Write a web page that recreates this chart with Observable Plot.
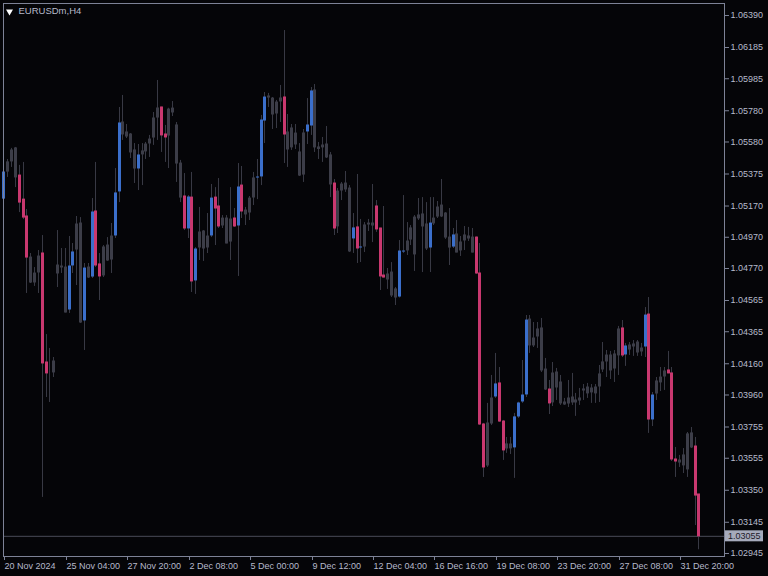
<!DOCTYPE html>
<html><head><meta charset="utf-8">
<script src="https://cdn.jsdelivr.net/npm/d3@7"></script>
<script src="https://cdn.jsdelivr.net/npm/@observablehq/plot@0.6"></script>
<style>
html,body{margin:0;padding:0;background:#050508;}
#chart{width:768px;height:576px;}
</style></head><body><div id="chart"></div>
<script>
const title = "EURUSDm,H4";
const lastPrice = 1.03055;
const dateLabels = ["20 Nov 2024","25 Nov 04:00","27 Nov 20:00","2 Dec 08:00","5 Dec 00:00","9 Dec 12:00","12 Dec 04:00","16 Dec 16:00","19 Dec 08:00","23 Dec 20:00","27 Dec 08:00","31 Dec 20:00"];
const barsPerLabel = 16;
const priceTicks = [1.06390,1.06185,1.05985,1.05780,1.05580,1.05375,1.05170,1.04970,1.04770,1.04565,1.04365,1.04160,1.03960,1.03755,1.03555,1.03350,1.03145,1.02945];
// signal per bar: u = bullish highlight, d = bearish highlight, n = none
const signal = ("unnndddnnn"+"ddnnnnnuun"+"nunuddnnnu"+"unnnnunnnn"+"nddnnnndud"+"unnnuddnnn"+"dudnnnuuun"+"nnndnnnnnu"+"unnnnndnnn"+"nudunnnddd"+
  "nnnuunnnnn"+"nunnnnnunn"+"nnndddnnud"+"dnnuuuunnn"+"nndnnnnnnn"+"nnnnnnnnnn"+"ndunnnnudu"+"nnndddnnnn"+"dd").split("");
const open = [
1.05211,1.05384,1.05449,1.05539,1.05365,1.05211,1.05103,1.04840,1.04674,1.04738,
1.04866,1.04168,1.04104,1.04098,1.04789,1.04770,1.04776,1.04501,1.04783,1.04885,
1.05058,1.04431,1.04776,1.04712,1.05135,1.04796,1.04719,1.04917,1.04821,1.04975,
1.05257,1.05705,1.05641,1.05628,1.05526,1.05404,1.05494,1.05513,1.05564,1.05602,
1.05730,1.05801,1.05628,1.05615,1.05794,1.05686,1.05442,1.05231,1.05020,1.05224,
1.04687,1.04898,1.05007,1.04898,1.04975,1.05224,1.05167,1.05039,1.05090,1.04936,
1.05090,1.05039,1.05301,1.05141,1.05122,1.05218,1.05346,1.05353,1.05711,1.05858,
1.05858,1.05756,1.05833,1.05865,1.05641,1.05539,1.05634,1.05513,1.05365,1.05641,
1.05679,1.05910,1.05545,1.05539,1.05564,1.05494,1.05314,1.05033,1.05263,1.05314,
1.05282,1.04956,1.05033,1.04898,1.04904,1.05045,1.05058,1.05167,1.05026,1.04725,
1.04693,1.04744,1.04636,1.04584,1.04872,1.04879,1.04949,1.05096,1.05084,1.05116,
1.05052,1.04898,1.05052,1.05096,1.05173,1.05122,1.04968,1.04904,1.04988,1.04879,
1.04943,1.04975,1.04968,1.04968,1.04738,1.03771,1.03502,1.03771,1.03944,1.04034,
1.03790,1.03611,1.03643,1.03618,1.03816,1.03912,1.03957,1.04443,1.04271,1.04328,
1.04386,1.04123,1.03995,1.03906,1.04104,1.04040,1.03912,1.03899,1.03944,1.03925,
1.03918,1.03982,1.04008,1.03970,1.04008,1.04008,1.04117,1.04168,1.04213,1.04123,
1.04207,1.04386,1.04213,1.04277,1.04264,1.04296,1.04232,1.04264,1.04475,1.03797,
1.03963,1.04034,1.04072,1.04117,1.04098,1.03547,1.03521,1.03573,1.03477,1.03714,
1.03630,1.03323];
const high = [
1.05449,1.05468,1.05539,1.05545,1.05430,1.05449,1.05148,1.04866,1.04776,1.04885,
1.04981,1.04347,1.04258,1.04200,1.05013,1.04898,1.04898,1.04975,1.04930,1.05103,
1.05096,1.04802,1.04802,1.05218,1.05449,1.04866,1.04917,1.04968,1.05058,1.05410,
1.05801,1.05878,1.05692,1.05634,1.05570,1.05564,1.05570,1.05577,1.05622,1.05769,
1.05974,1.05803,1.05686,1.05796,1.05839,1.05705,1.05462,1.05378,1.05237,1.05385,
1.04904,1.05161,1.05013,1.05122,1.05308,1.05288,1.05346,1.05109,1.05109,1.05288,
1.05154,1.05442,1.05423,1.05161,1.05231,1.05385,1.05468,1.05750,1.05897,1.05891,
1.05865,1.05846,1.05942,1.06294,1.05756,1.05692,1.05692,1.05570,1.05660,1.05858,
1.05929,1.05948,1.05577,1.05609,1.05679,1.05513,1.05340,1.05282,1.05321,1.05391,
1.05301,1.05122,1.05372,1.05084,1.05064,1.05084,1.05308,1.05205,1.05028,1.05167,
1.04770,1.04808,1.04648,1.04949,1.05237,1.05064,1.05045,1.05109,1.05218,1.05224,
1.05192,1.05224,1.05224,1.05199,1.05340,1.05128,1.05154,1.05026,1.05077,1.04975,
1.05039,1.05033,1.05026,1.04972,1.04930,1.03778,1.03906,1.04085,1.04226,1.04136,
1.03797,1.03688,1.03688,1.03842,1.03914,1.04181,1.04469,1.04469,1.04424,1.04424,
1.04450,1.04194,1.04053,1.04168,1.04130,1.04085,1.03938,1.04053,1.04098,1.03970,
1.04002,1.04027,1.04034,1.04027,1.04027,1.04149,1.04296,1.04245,1.04239,1.04245,
1.04399,1.04437,1.04290,1.04296,1.04309,1.04309,1.04290,1.04520,1.04584,1.03976,
1.04072,1.04136,1.04136,1.04239,1.04136,1.03624,1.03573,1.03617,1.03720,1.03752,
1.03688,1.03323];
const low = [
1.05064,1.05353,1.05417,1.05288,1.05128,1.05083,1.04610,1.04674,1.04655,1.04610,
1.03304,1.03944,1.03912,1.04072,1.04648,1.04738,1.04485,1.04482,1.04738,1.04661,
1.04418,1.04245,1.04706,1.04706,1.04776,1.04565,1.04712,1.04815,1.04738,1.04962,
1.05192,1.05590,1.05602,1.05474,1.05314,1.05269,1.05301,1.05468,1.05481,1.05558,
1.05590,1.05513,1.05449,1.05410,1.05743,1.05321,1.05192,1.05013,1.04962,1.04616,
1.04604,1.04821,1.04815,1.04866,1.04968,1.04917,1.05026,1.05026,1.04928,1.04821,
1.05033,1.04719,1.05090,1.05045,1.05077,1.05173,1.05211,1.05301,1.05570,1.05801,
1.05660,1.05666,1.05705,1.05442,1.05417,1.05526,1.05532,1.05359,1.05321,1.05564,
1.05622,1.05513,1.05468,1.05449,1.05474,1.05224,1.04981,1.04994,1.05205,1.05257,
1.04872,1.04866,1.04802,1.04808,1.04872,1.05007,1.04936,1.05001,1.04629,1.04709,
1.04636,1.04584,1.04533,1.04581,1.04866,1.04853,1.04917,1.04751,1.05077,1.04744,
1.04885,1.04744,1.05045,1.05090,1.05096,1.04956,1.04789,1.04898,1.04870,1.04847,
1.04885,1.04943,1.04869,1.04732,1.03765,1.03432,1.03496,1.03765,1.03938,1.03784,
1.03541,1.03586,1.03579,1.03426,1.03810,1.03906,1.03944,1.04226,1.04264,1.04258,
1.04104,1.03989,1.03835,1.03886,1.03925,1.03893,1.03893,1.03880,1.03893,1.03823,
1.03893,1.03925,1.03938,1.03906,1.03906,1.03912,1.04104,1.04072,1.04059,1.04040,
1.04085,1.04200,1.04143,1.04213,1.04207,1.04207,1.04207,1.04200,1.03714,1.03758,
1.03925,1.03982,1.03989,1.04096,1.03534,1.03432,1.03496,1.03457,1.03432,1.03617,
1.03124,1.02969];
const close = [
1.05391,1.05456,1.05532,1.05353,1.05192,1.05096,1.04840,1.04680,1.04744,1.04853,
1.04162,1.04098,1.04110,1.04181,1.04738,1.04789,1.04488,1.04789,1.04879,1.05058,
1.04424,1.04776,1.04712,1.05135,1.04789,1.04719,1.04911,1.04821,1.04981,1.05257,
1.05705,1.05628,1.05615,1.05513,1.05410,1.05500,1.05526,1.05570,1.05602,1.05737,
1.05801,1.05622,1.05609,1.05794,1.05769,1.05442,1.05224,1.05026,1.05231,1.04687,
1.04898,1.05007,1.04898,1.04981,1.05224,1.05154,1.05039,1.05096,1.04930,1.05090,
1.05039,1.05295,1.05135,1.05116,1.05224,1.05353,1.05359,1.05724,1.05871,1.05878,
1.05756,1.05839,1.05865,1.05628,1.05532,1.05673,1.05564,1.05365,1.05641,1.05692,
1.05910,1.05545,1.05535,1.05564,1.05481,1.05308,1.05026,1.05269,1.05314,1.05276,
1.04879,1.05033,1.04898,1.04911,1.05052,1.05064,1.05045,1.05020,1.04719,1.04712,
1.04738,1.04597,1.04584,1.04885,1.04885,1.04949,1.05033,1.04860,1.05116,1.05039,
1.04898,1.05064,1.05096,1.05167,1.05103,1.04968,1.04904,1.04988,1.04872,1.04943,
1.04988,1.04962,1.04872,1.04738,1.03771,1.03496,1.03784,1.03944,1.04034,1.03790,
1.03605,1.03650,1.03618,1.03823,1.03912,1.03963,1.04443,1.04277,1.04328,1.04386,
1.04117,1.03995,1.03906,1.04104,1.04008,1.03906,1.03899,1.03944,1.03912,1.03912,
1.03944,1.04002,1.03970,1.04008,1.03970,1.04098,1.04175,1.04219,1.04117,1.04226,
1.04386,1.04213,1.04277,1.04251,1.04290,1.04232,1.04264,1.04475,1.03803,1.03963,
1.04053,1.04078,1.04117,1.04098,1.03547,1.03534,1.03547,1.03509,1.03714,1.03624,
1.03316,1.03055];

const bars = open.map((o, i) => ({i, open: o, high: high[i], low: low[i], close: close[i], signal: signal[i]}));
const labelBars = dateLabels.map((_, k) => k * barsPerLabel);

const axisColor = "#7d8296";
const textColor = "#b6bacb";

const chart = Plot.plot({
  width: 768, height: 576,
  marginTop: 3, marginBottom: 20, marginLeft: 3, marginRight: 44,
  style: {background: "#050508", color: textColor, fontFamily: "'Liberation Sans', Arial, sans-serif", fontSize: "9px"},
  x: {domain: [-0.08, 187.68], round: true, axis: null, label: null},
  y: {domain: [1.029258, 1.064668], axis: null, label: null},
  color: {domain: ["u", "d", "n"], range: ["#3b6fcb", "#c9386f", "#3c3d48"]},
  marks: [
    Plot.ruleY([lastPrice], {stroke: "#4a4b58"}),
    Plot.ruleX(bars, {x: "i", y1: "low", y2: "high", stroke: "#383944", strokeWidth: 1}),
    Plot.ruleX(bars, {x: "i", y1: "open", y2: "close", stroke: "signal", strokeWidth: 3, insetTop: -0.5, insetBottom: -0.5}),
    Plot.frame({stroke: axisColor}),
    Plot.axisY(priceTicks, {anchor: "right", label: null, tickSize: 4, tickPadding: 2, tickFormat: d => d.toFixed(5), stroke: axisColor, fill: textColor}),
    Plot.axisX(labelBars, {anchor: "bottom", label: null, tickSize: 4, tickPadding: 2, tickFormat: (d, k) => dateLabels[k], textAnchor: "start", dx: 1, stroke: axisColor, fill: textColor}),
    Plot.dot([title], {frameAnchor: "top-left", dx: 6, dy: 8, symbol: "triangle", rotate: 180, r: 2.6, fill: "#ffffff", stroke: "none"}),
    Plot.text([title], {frameAnchor: "top-left", dx: 15, dy: 4, text: d => d, fill: textColor, fontSize: 9.5})
  ]
});
document.getElementById("chart").appendChild(chart);

// current price label on the right axis
const yPos = chart.scale("y").apply(lastPrice);
const svg = d3.select(chart);
const g = svg.append("g").attr("text-anchor", "start");
g.append("rect").attr("x", 725).attr("y", yPos - 5.5).attr("width", 38).attr("height", 11).attr("fill", "#a6abbc");
g.append("text").attr("x", 728).attr("y", yPos).attr("dy", "0.35em").attr("text-anchor", "start")
  .attr("font-family", "'Liberation Sans', Arial, sans-serif").attr("font-size", 9)
  .attr("fill", "#1e2029").text(lastPrice.toFixed(5));
</script></body></html>
